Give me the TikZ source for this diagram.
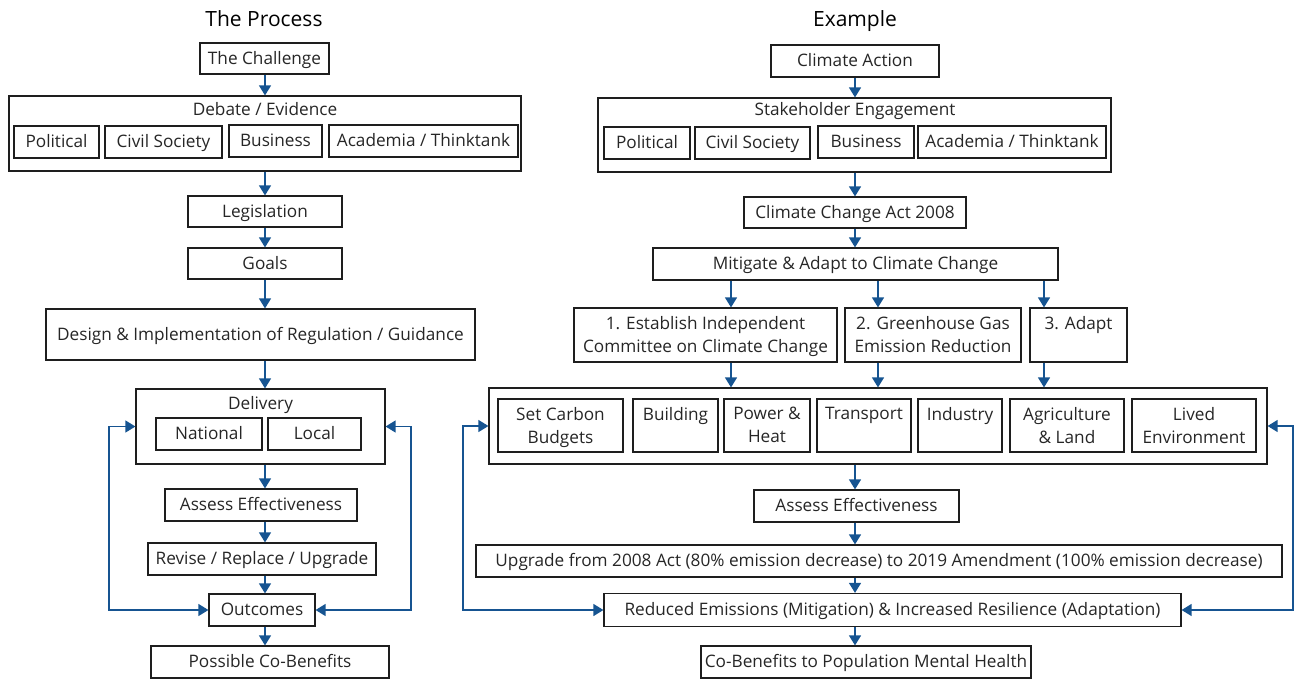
\documentclass[tikz,border=0pt]{standalone}
\usepackage{fontspec}
\setmainfont{Open Sans}
\usetikzlibrary{arrows.meta}
\definecolor{arrowblue}{RGB}{22,84,145}
\definecolor{boxline}{RGB}{30,30,30}
\tikzset{
  box/.style={draw=boxline, line width=1.2pt, inner sep=0pt, align=center, font=\fontsize{17.2}{23}\selectfont, text=black!85, text height=13pt, text depth=2pt},
  multi/.style={text height=, text depth=1pt},
  ttl/.style={inner sep=0pt, font=\fontsize{17.2}{23}\selectfont, text=black!85, text height=13pt, text depth=2pt},
  head/.style={inner sep=0pt, font=\fontsize{21}{24}\selectfont, text height=15pt, text depth=1.5pt},
  arr/.style={draw=arrowblue, line width=1.3pt, -{Triangle[length=10pt,width=12pt]}},
  biarr/.style={draw=arrowblue, line width=1.3pt, {Triangle[length=10pt,width=12pt]}-{Triangle[length=10pt,width=12pt]}}
}
\begin{document}
\begin{tikzpicture}[x=1pt,y=-1pt]
\useasboundingbox (0,0) rectangle (1297,680);
\coordinate (spineL) at (265,0);
\coordinate (spineR) at (855,0);
% ---------- left ----------
\node[head] (tproc) at (264,20) {The Process};
\node[box, minimum width=129, minimum height=31] (chal) at (264.5,58.5) {The Challenge};
\node[box, minimum width=512, minimum height=75] (deb) at (265,133.5) {};
\node[ttl] (debt) at (265,110) {Debate / Evidence};
\node[box, minimum width=85, minimum height=32] (pol1) at (56.5,142) {Political};
\node[box, minimum width=117, minimum height=32] (civ1) at (163.5,142) {Civil Society};
\node[box, minimum width=93, minimum height=32] (bus1) at (275.5,141) {Business};
\node[box, minimum width=189, minimum height=32] (aca1) at (423.5,141) {Academia / Thinktank};
\node[box, minimum width=154, minimum height=31] (leg) at (265,211.5) {Legislation};
\node[box, minimum width=154, minimum height=31] (goal) at (265,263.5) {Goals};
\node[box, minimum width=429, minimum height=51] (des) at (260.5,334.5) {Design \& Implementation of Regulation / Guidance};
\node[box, minimum width=249, minimum height=75] (del) at (260.5,426.5) {};
\node[ttl] (delt) at (260.5,404) {Delivery};
\node[box, minimum width=106, minimum height=32] (nat) at (209,434) {National};
\node[box, minimum width=93, minimum height=32] (loc) at (314.5,434) {Local};
\node[box, minimum width=192, minimum height=32] (ass1) at (261,505) {Assess Effectiveness};
\node[box, minimum width=228, minimum height=32] (rev) at (262,559) {Revise / Replace / Upgrade};
\node[box, minimum width=106, minimum height=32] (out) at (262,610) {Outcomes};
\node[box, minimum width=238, minimum height=32] (cob1) at (270,662) {Possible Co-Benefits};
\coordinate (fbL1) at (109,0);
\coordinate (fbR1) at (411,0);
\draw[arr] (chal.south -| spineL) -- (deb.north -| spineL);
\draw[arr] (deb.south -| spineL) -- (leg.north -| spineL);
\draw[arr] (leg.south -| spineL) -- (goal.north -| spineL);
\draw[arr] (goal.south -| spineL) -- (des.north -| spineL);
\draw[arr] (des.south -| spineL) -- (del.north -| spineL);
\draw[arr] (del.south -| spineL) -- (ass1.north -| spineL);
\draw[arr] (ass1.south -| spineL) -- (rev.north -| spineL);
\draw[arr] (rev.south -| spineL) -- (out.north -| spineL);
\draw[arr] (out.south -| spineL) -- (cob1.north -| spineL);
\draw[biarr] (out.west) -- (out.west -| fbL1) -- (del.west -| fbL1) -- (del.west);
\draw[biarr] (out.east) -- (out.east -| fbR1) -- (del.east -| fbR1) -- (del.east);
% ---------- right ----------
\node[head] (tex) at (855,20) {Example};
\node[box, minimum width=168, minimum height=32] (ca) at (855,61) {Climate Action};
\node[box, minimum width=513, minimum height=74] (stk) at (854.5,135) {};
\node[ttl] (stkt) at (855,110) {Stakeholder Engagement};
\node[box, minimum width=86, minimum height=32] (pol2) at (647,143) {Political};
\node[box, minimum width=115, minimum height=32] (civ2) at (752.5,143) {Civil Society};
\node[box, minimum width=96, minimum height=32] (bus2) at (866,142) {Business};
\node[box, minimum width=188, minimum height=32] (aca2) at (1012,142) {Academia / Thinktank};
\node[box, minimum width=222, minimum height=31] (act) at (855,212.5) {Climate Change Act 2008};
\node[box, minimum width=405, minimum height=32] (mit) at (855.5,264) {Mitigate \& Adapt to Climate Change};
\node[box, multi, minimum width=263, minimum height=54] (est) at (705.5,335) {1. Establish Independent\\Committee on Climate Change};
\node[box, multi, minimum width=176, minimum height=54] (ghg) at (933,335) {2. Greenhouse Gas\\Emission Reduction};
\node[box, multi, minimum width=97, minimum height=54] (adp) at (1078.5,335) {3. Adapt\\\strut};
\coordinate (b1) at (731,0);
\coordinate (b2) at (878,0);
\coordinate (b3) at (1044,0);
\node[box, minimum width=778, minimum height=76] (sec) at (878,426) {};
\node[box, multi, minimum width=125, minimum height=53] (scb) at (560.5,425.5) {Set Carbon\\Budgets};
\node[box, multi, minimum width=85, minimum height=53] (bld) at (675.5,425.5) {Building\\\strut};
\node[box, multi, minimum width=86, minimum height=53] (pow) at (767,425.5) {Power \&\\Heat};
\node[box, multi, minimum width=94, minimum height=53] (trn) at (864,425.5) {Transport\\\strut};
\node[box, multi, minimum width=84, minimum height=53] (ind) at (960,425.5) {Industry\\\strut};
\node[box, multi, minimum width=114, minimum height=53] (agr) at (1067,425.5) {Agriculture\\\& Land};
\node[box, multi, minimum width=124, minimum height=53] (liv) at (1194,425.5) {Lived\\Environment};
\node[box, minimum width=205, minimum height=32] (ass2) at (856.5,506) {Assess Effectiveness};
\node[box, minimum width=806, minimum height=32] (upg) at (879,561) {Upgrade from 2008 Act (80\% emission decrease) to 2019 Amendment (100\% emission decrease)};
\node[box, minimum width=577, minimum height=33] (red) at (892.5,610) {Reduced Emissions (Mitigation) \& Increased Resilience (Adaptation)};
\node[box, minimum width=330, minimum height=32] (cob2) at (866,662) {Co-Benefits to Population Mental Health};
\coordinate (fbL2) at (463,0);
\coordinate (fbR2) at (1293,0);
\draw[arr] (ca.south -| spineR) -- (stk.north -| spineR);
\draw[arr] (stk.south -| spineR) -- (act.north -| spineR);
\draw[arr] (act.south -| spineR) -- (mit.north -| spineR);
\draw[arr] (mit.south -| b1) -- (est.north -| b1);
\draw[arr] (mit.south -| b2) -- (ghg.north -| b2);
\draw[arr] (mit.south -| b3) -- (adp.north -| b3);
\draw[arr] (est.south -| b1) -- (sec.north -| b1);
\draw[arr] (ghg.south -| b2) -- (sec.north -| b2);
\draw[arr] (adp.south -| b3) -- (sec.north -| b3);
\draw[arr] (sec.south -| spineR) -- (ass2.north -| spineR);
\draw[arr] (ass2.south -| spineR) -- (upg.north -| spineR);
\draw[arr] (upg.south -| spineR) -- (red.north -| spineR);
\draw[arr] (red.south -| spineR) -- (cob2.north -| spineR);
\draw[biarr] (red.west) -- (red.west -| fbL2) -- (sec.west -| fbL2) -- (sec.west);
\draw[biarr] (red.east) -- (red.east -| fbR2) -- (sec.east -| fbR2) -- (sec.east);
\end{tikzpicture}
\end{document}
